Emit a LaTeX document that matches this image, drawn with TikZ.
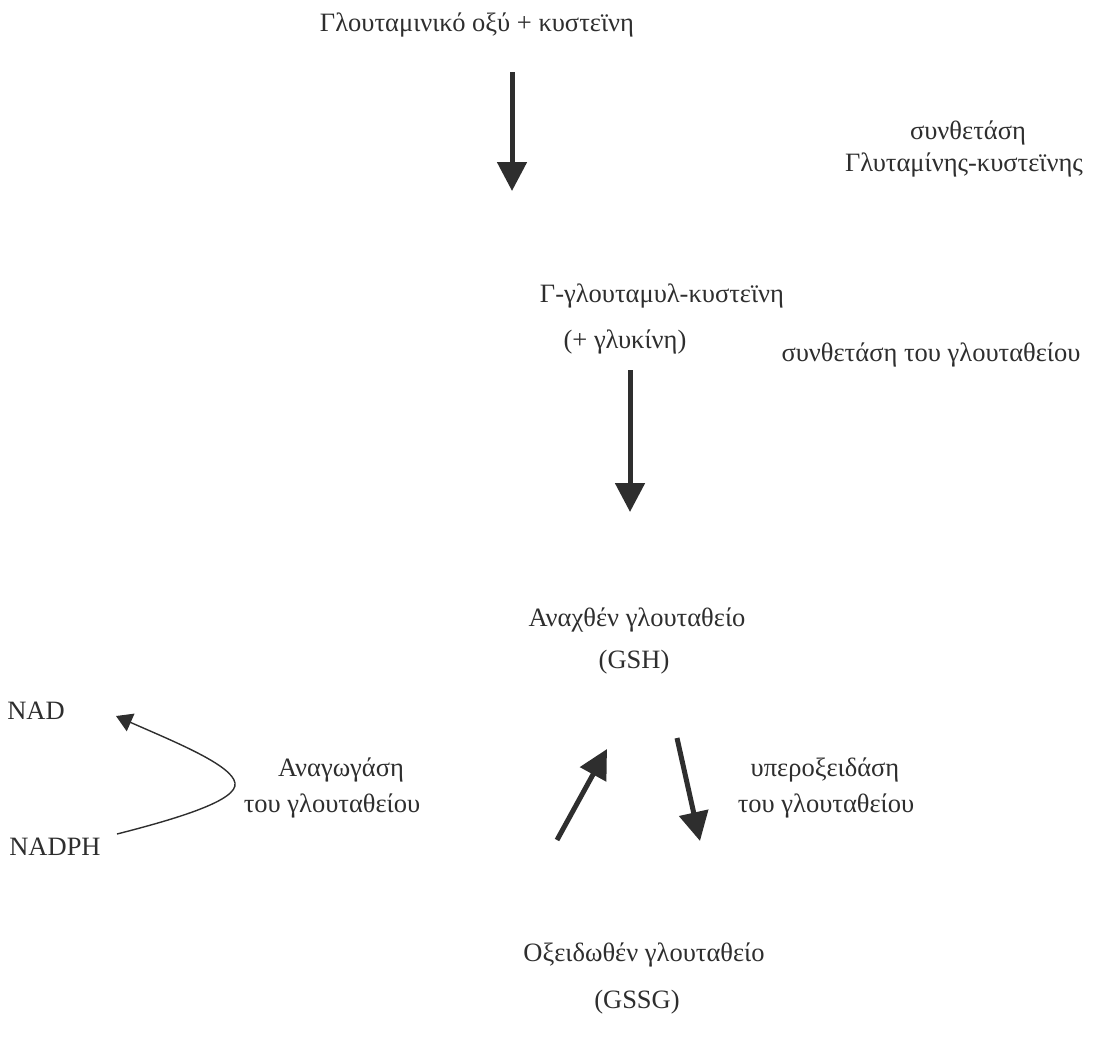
\documentclass[tikz,border=0pt]{standalone}
\usepackage{fontspec}
\setmainfont{Liberation Serif}
\usetikzlibrary{arrows.meta}
\definecolor{ink}{HTML}{2E2E2E}

\begin{document}
\begin{tikzpicture}[x=1pt, y=-1pt,
	every node/.style={font=\fontsize{26.5}{30}\selectfont, text=ink, inner sep=0pt},
	fat/.style={ink, line width=5pt, -{Triangle[width=29pt,length=29pt]}},
	thin/.style={ink, line width=1.4pt, -{Triangle[width=19pt,length=16pt]}}]
	\useasboundingbox (0,0) rectangle (1097,1044);

	% main chain
	\node (glu) at (477,25) {Γλουταμινικό οξύ + κυστεϊνη};
	\node (gcys) at (662,296) {Γ-γλουταμυλ-κυστεϊνη};
	\node (gly) at (625,342) {(+ γλυκίνη)};
	\node (gsh) at (637,620) {Αναχθέν γλουταθείο};
	\node (gshlbl) at (634,662) {(GSH)};
	\node (gssg) at (644,955) {Οξειδωθέν γλουταθείο};
	\node (gssglbl) at (637,1002) {(GSSG)};

	% enzymes
	\node (synA1) at (968,133) {συνθετάση};
	\node (synA2) at (964,165) {Γλυταμίνης-κυστεϊνης};
	\node (synB) at (931,355) {συνθετάση του γλουταθείου};
	\node (red1) at (341,770) {Αναγωγάση};
	\node (red2) at (332,806) {του γλουταθείου};
	\node (perox1) at (825,770) {υπεροξειδάση};
	\node (perox2) at (826,806) {του γλουταθείου};

	% cofactors
	\node (nad) at (36,711) {NAD};
	\node (nadph) at (55,847) {NADPH};

	%define coordinates for arrows
	\coordinate (a0) at (512,72); \coordinate (a1) at (512,191);
	\coordinate (b0) at (630,370); \coordinate (b1) at (630,512);
	\coordinate (c0) at (557,840); \coordinate (c1) at (607,749);
	\coordinate (d0) at (677,738); \coordinate (d1) at (700,841);
	\coordinate (e0) at (117,834); \coordinate (e1) at (116,716);

	%draw arrows
	\draw[fat] (a0) -- (a1);
	\draw[fat] (b0) -- (b1);
	\draw[fat] (c0) -- (c1);
	\draw[fat] (d0) -- (d1);

	% NADPH -> NAD
	\draw[thin] (e0) .. controls (180,818) and (238,800) .. (235,783)
		.. controls (232,765) and (175,742) .. (e1);

\end{tikzpicture}
\end{document}
